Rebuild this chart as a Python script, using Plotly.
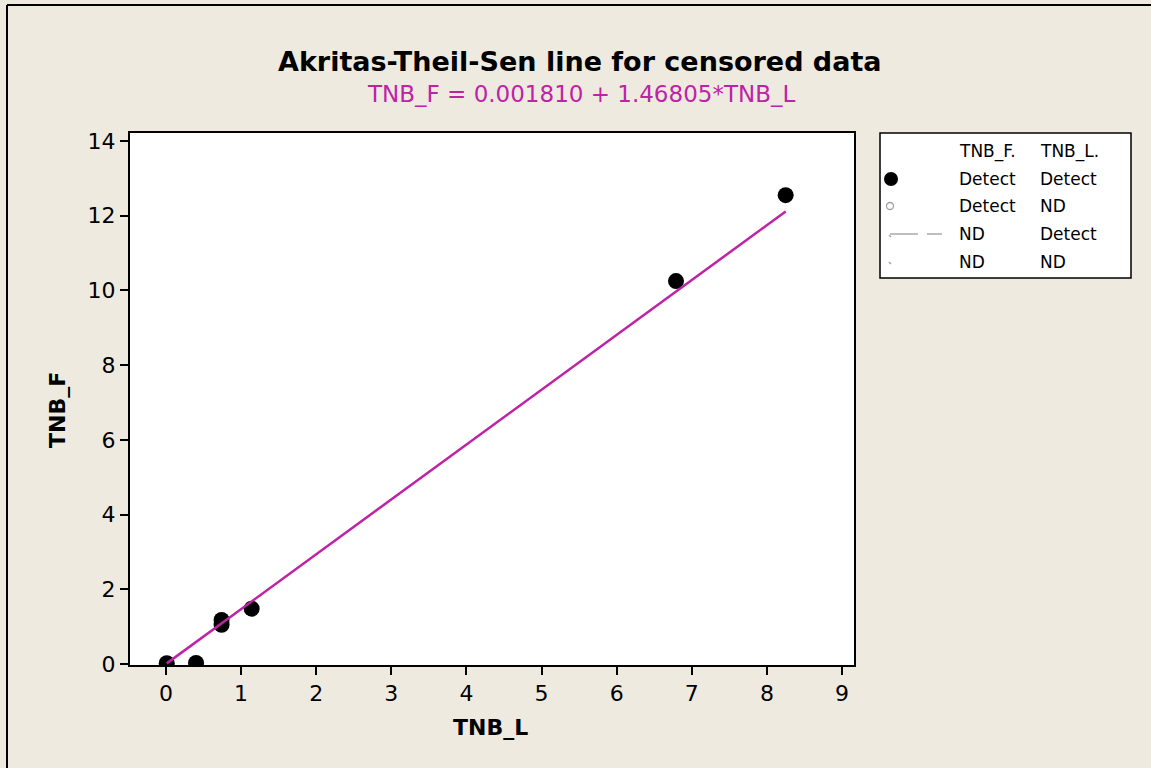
import plotly.graph_objects as go

# ---- data ----
tnb_l_detect = [0.40, 0.74, 0.74, 1.14, 6.79, 8.25, 0.01]
tnb_f_detect = [0.03, 1.18, 1.05, 1.48, 10.25, 12.55, 0.02]
tnb_l_nd = [0.01]        # TNB_F detect, TNB_L ND
tnb_f_nd = [0.02]
intercept = 0.001810
slope = 1.46805
x_ticks = [0, 1, 2, 3, 4, 5, 6, 7, 8, 9]
y_ticks = [0, 2, 4, 6, 8, 10, 12, 14]
legend_header = ["TNB_F.", "TNB_L."]
legend_rows = [["Detect", "Detect"], ["Detect", "ND"], ["ND", "Detect"], ["ND", "ND"]]

W, H = 1151, 768
BG = "#EEEAE0"
MAG = "#BE23A6"
FONT = "DejaVu Sans"

def fx(px):
    return px / W

def fy(py):
    return 1 - py / H

# plot area in pixels
L, R, T, B = 130, 854, 133, 665

line_x = [min(tnb_l_detect + tnb_l_nd), max(tnb_l_detect)]
line_y = [intercept + slope * v for v in line_x]

fig = go.Figure()
fig.add_trace(go.Scatter(x=tnb_l_detect, y=tnb_f_detect, mode="markers",
                         marker=dict(color="black", size=16, line=dict(width=0)),
                         showlegend=False))
fig.add_trace(go.Scatter(x=tnb_l_nd, y=tnb_f_nd, mode="markers",
                         marker=dict(color="rgba(0,0,0,0)", size=9, symbol="circle-open",
                                     line=dict(color="#A0A0A0", width=1.5)),
                         showlegend=False))
fig.add_trace(go.Scatter(x=line_x, y=line_y, mode="lines",
                         line=dict(color=MAG, width=2.5), showlegend=False))

# legend symbols on their own small axes (pixel space)
LX0, LX1, LY0, LY1 = 880, 1131, 133, 278
row_y = [179, 206, 234, 262]
head_y = 152
fig.add_trace(go.Scatter(x=[891], y=[row_y[0]], mode="markers", xaxis="x2", yaxis="y2",
                         marker=dict(color="black", size=14), showlegend=False))
fig.add_trace(go.Scatter(x=[890], y=[row_y[1]], mode="markers", xaxis="x2", yaxis="y2",
                         marker=dict(symbol="circle-open", size=7, color="#A0A0A0",
                                     line=dict(width=1.3)), showlegend=False))
fig.add_trace(go.Scatter(x=[890, 918], y=[row_y[2], row_y[2]], mode="lines", xaxis="x2", yaxis="y2",
                         line=dict(color="#A8A8A8", width=1.5), showlegend=False))
fig.add_trace(go.Scatter(x=[927, 942], y=[row_y[2], row_y[2]], mode="lines", xaxis="x2", yaxis="y2",
                         line=dict(color="#A8A8A8", width=1.5), showlegend=False))
fig.add_trace(go.Scatter(x=[889, 891], y=[row_y[2] + 1, row_y[2] + 3], mode="lines", xaxis="x2", yaxis="y2",
                         line=dict(color="#A8A8A8", width=1.5), showlegend=False))
fig.add_trace(go.Scatter(x=[889, 891], y=[row_y[3], row_y[3] + 2], mode="lines", xaxis="x2", yaxis="y2",
                         line=dict(color="#A0A0A0", width=1.5), showlegend=False))

annotations = []
col_x = [957, 1038]
for j, h in enumerate(legend_header):
    annotations.append(dict(x=fx(col_x[j]), y=fy(head_y), xref="paper", yref="paper",
                            text=h, showarrow=False, xanchor="left", yanchor="middle",
                            font=dict(family=FONT, size=17, color="black")))
for i, row in enumerate(legend_rows):
    for j, t in enumerate(row):
        annotations.append(dict(x=fx(col_x[j]), y=fy(row_y[i]), xref="paper", yref="paper",
                                text=t, showarrow=False, xanchor="left", yanchor="middle",
                                font=dict(family=FONT, size=17, color="black")))

# title and subtitle
annotations.append(dict(x=fx(580), y=fy(61), xref="paper", yref="paper",
                        text="<b>Akritas-Theil-Sen line for censored data</b>", showarrow=False,
                        xanchor="center", yanchor="middle",
                        font=dict(family=FONT, size=27, color="black")))
annotations.append(dict(x=fx(581), y=fy(94), xref="paper", yref="paper",
                        text="TNB_F = 0.001810 + 1.46805*TNB_L", showarrow=False,
                        xanchor="center", yanchor="middle",
                        font=dict(family=FONT, size=23, color=MAG)))
# axis titles
annotations.append(dict(x=fx(490), y=fy(727), xref="paper", yref="paper",
                        text="<b>TNB_L</b>", showarrow=False, xanchor="center", yanchor="middle",
                        font=dict(family=FONT, size=22, color="black")))
annotations.append(dict(x=fx(57), y=fy(410), xref="paper", yref="paper",
                        text="<b>TNB_F</b>", showarrow=False, xanchor="center", yanchor="middle",
                        textangle=-90,
                        font=dict(family=FONT, size=22, color="black")))

shapes = [
    # legend box
    dict(type="rect", xref="paper", yref="paper", x0=fx(LX0), x1=fx(LX1), y0=fy(LY1), y1=fy(LY0),
         line=dict(color="black", width=1.5), fillcolor="white", layer="below"),
    # outer border (left and top)
    dict(type="line", xref="paper", yref="paper", x0=fx(7), x1=fx(7), y0=0, y1=fy(5),
         line=dict(color="black", width=2)),
    dict(type="line", xref="paper", yref="paper", x0=fx(7), x1=1, y0=fy(5), y1=fy(5),
         line=dict(color="black", width=2)),
]

x_per = (842 - 166) / 9.0
y_per = (664 - 141) / 14.0
xr = [(L - 166) / x_per, (R - 166) / x_per]
yr = [(664 - B) / y_per, (664 - T) / y_per]

fig.update_layout(
    width=W, height=H,
    paper_bgcolor=BG, plot_bgcolor="white",
    margin=dict(l=0, r=0, t=0, b=0),
    showlegend=False,
    font=dict(family=FONT, color="black"),
    xaxis=dict(domain=[fx(L), fx(R)], range=xr, tickvals=x_ticks, ticks="outside",
               ticklen=8, tickwidth=2, tickcolor="black", showgrid=False, zeroline=False,
               showline=True, linecolor="black", linewidth=2, mirror=True,
               tickfont=dict(family=FONT, size=22), automargin=False),
    yaxis=dict(domain=[fy(B), fy(T)], range=yr, tickvals=y_ticks, ticks="outside",
               ticklen=8, tickwidth=2, tickcolor="black", showgrid=False, zeroline=False,
               showline=True, linecolor="black", linewidth=2, mirror=True,
               tickfont=dict(family=FONT, size=22), automargin=False),
    xaxis2=dict(domain=[fx(LX0), fx(LX1)], range=[LX0, LX1], visible=False, anchor="y2"),
    yaxis2=dict(domain=[fy(LY1), fy(LY0)], range=[LY1, LY0], visible=False, anchor="x2"),
    annotations=annotations,
    shapes=shapes,
)

fig.write_html(
    "out.html",
    config={"displayModeBar": False},
    post_script="var st=document.createElement('style');"
                "st.textContent='html,body{margin:0;padding:0;overflow:hidden;background:" + BG + ";}"
                "::-webkit-scrollbar{display:none;width:0;height:0;}';"
                "document.head.appendChild(st);",
)
